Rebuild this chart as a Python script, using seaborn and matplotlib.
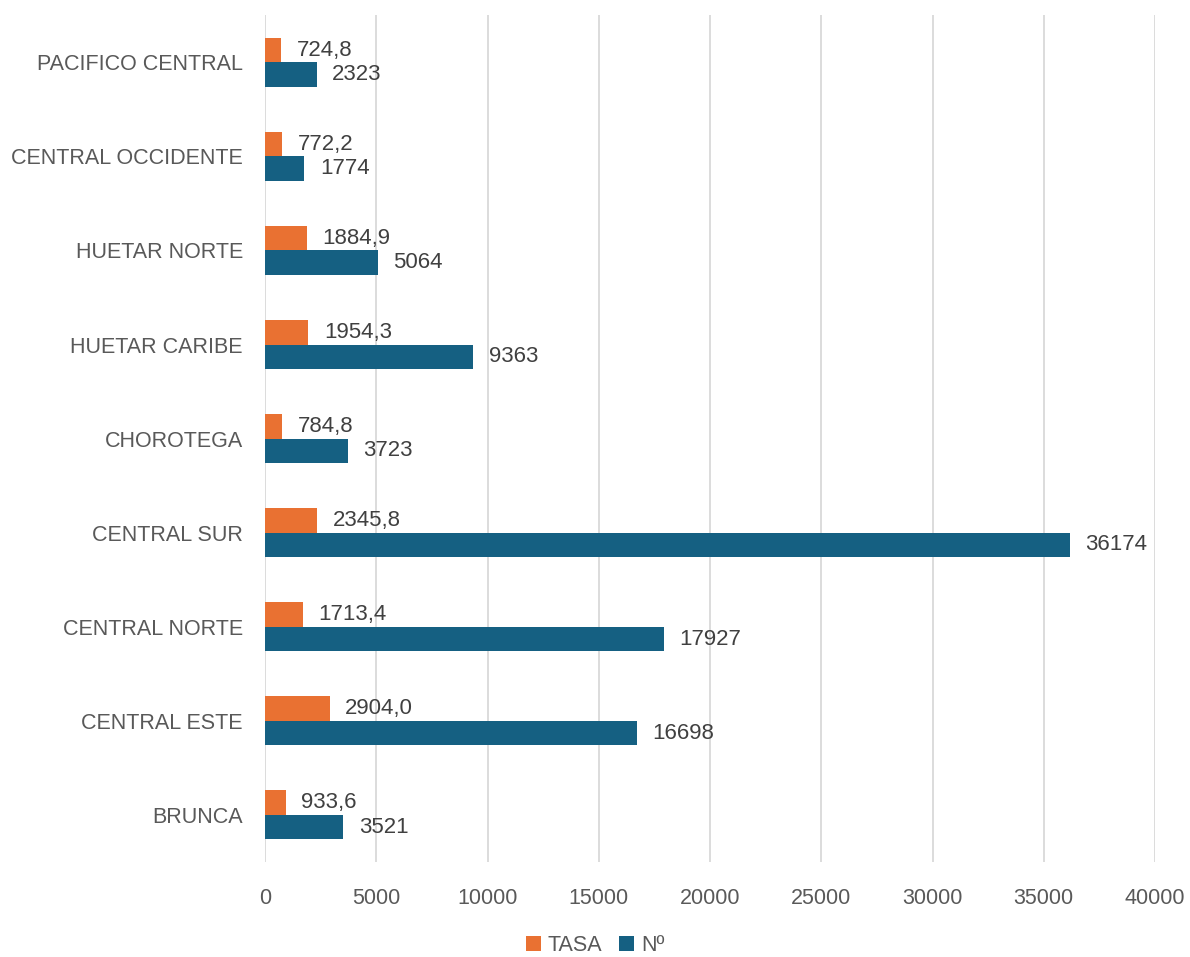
import matplotlib
matplotlib.use("Agg")
import matplotlib.pyplot as plt
import seaborn as sns
import pandas as pd
from matplotlib.patches import Patch

regions = ["PACIFICO CENTRAL", "CENTRAL OCCIDENTE", "HUETAR NORTE", "HUETAR CARIBE",
           "CHOROTEGA", "CENTRAL SUR", "CENTRAL NORTE", "CENTRAL ESTE", "BRUNCA"]
tasa = [724.8, 772.2, 1884.9, 1954.3, 784.8, 2345.8, 1713.4, 2904.0, 933.6]
numero = [2323, 1774, 5064, 9363, 3723, 36174, 17927, 16698, 3521]
series_names = ["TASA", "Nº"]
xticks = [0, 5000, 10000, 15000, 20000, 25000, 30000, 35000, 40000]

colors = ["#E97132", "#156082"]

df = pd.DataFrame({
    "region": regions * 2,
    "value": tasa + numero,
    "serie": [series_names[0]] * len(regions) + [series_names[1]] * len(regions),
})

sns.set_style("white")
plt.rcParams["font.family"] = ["Liberation Sans", "DejaVu Sans"]

fig = plt.figure(figsize=(11.9, 9.57), dpi=100)
ax = fig.add_axes([0.2227, 0.0993, 0.7479, 0.8847])

sns.barplot(data=df, y="region", x="value", hue="serie", order=regions,
            hue_order=series_names, palette=colors, orient="h", width=0.52,
            ax=ax, legend=False, saturation=1, linewidth=0)

for container, vals, fmt in zip(ax.containers, [tasa, numero],
                                [lambda v: f"{v:.1f}".replace(".", ","), lambda v: f"{v:.0f}"]):
    ax.bar_label(container, labels=[fmt(v) for v in vals], padding=11,
                 fontsize=16, color="#404040")

ax.set_xlim(0, 40000)
ax.set_xticks(xticks)
ax.set_xticklabels([str(t) for t in xticks])
ax.set_xlabel("")
ax.set_ylabel("")
ax.grid(axis="x", color="#D9D9D9", linewidth=1.3)
ax.set_axisbelow(True)
for s in ax.spines.values():
    s.set_visible(False)
ax.tick_params(axis="both", length=0, labelsize=15.5, colors="#595959")
ax.tick_params(axis="y", pad=16)
ax.tick_params(axis="x", pad=19)

handles = [Patch(facecolor=c, edgecolor="none") for c in colors]
fig.legend(handles, series_names, loc="center", bbox_to_anchor=(0.5, 0.012),
           ncol=2, frameon=False, fontsize=15.5, handlelength=0.7, handleheight=0.7,
           handletextpad=0.3, columnspacing=0.8, labelcolor="#595959")

fig.savefig("out.png", dpi=100)
